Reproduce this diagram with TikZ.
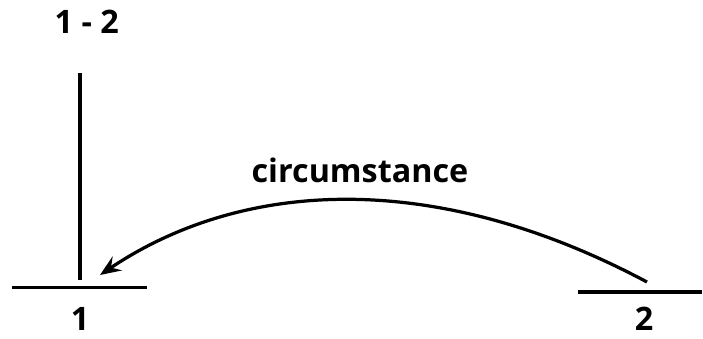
\documentclass[tikz,border=0pt]{standalone}
\usepackage{fontspec}
\setmainfont{Open Sans}
\usetikzlibrary{arrows.meta,positioning}
\tikzset{
  bar/.style={line width=2.3pt},
  lab/.style={font=\fontsize{23}{26}\selectfont\bfseries, inner sep=0pt, anchor=base},
  rel/.style={line width=2.3pt, -{Stealth[length=5.2mm, width=4.2mm, inset=1.9mm]}},
}
\begin{document}
\begin{tikzpicture}
\useasboundingbox (0,0) rectangle (17.575,-8.45);
% states
\node[lab] (top) at (2.17,-0.83) {1 - 2};
\draw[bar] (2.0,-1.82) -- (2.0,-7.0);
\draw[bar] (0.3,-7.18) -- (3.68,-7.18);
\node[lab] (one) at (2.0,-8.25) {1};
\draw[bar] (14.45,-7.3) -- (17.55,-7.3);
\node[lab] (two) at (16.1,-8.25) {2};
% relation
\coordinate (src) at (16.175,-7.05);
\coordinate (dst) at (2.5,-6.875);
\draw[rel] (src) .. controls +(-5.2,2.775) and +(3.65,2.45) .. (dst);
\node[lab] (circ) at (9.0,-4.55) {circumstance};
\end{tikzpicture}
\end{document}
